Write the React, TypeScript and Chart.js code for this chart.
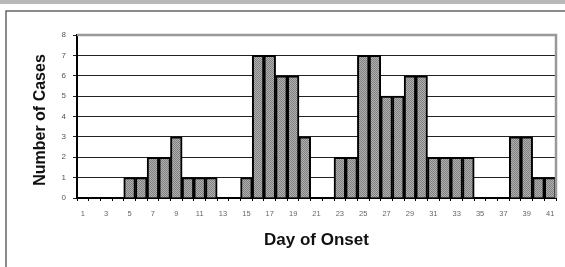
import React, { useEffect, useRef } from "react";
import { Chart, registerables } from "chart.js";

Chart.register(...registerables);

const days: string[] = Array.from({ length: 41 }, (_, i) => String(i + 1));
const cases: number[] = [
  0, 0, 0, 0, 1, 1, 2, 2, 3, 1,
  1, 1, 0, 0, 1, 7, 7, 6, 6, 3,
  0, 0, 2, 2, 7, 7, 5, 5, 6, 6,
  2, 2, 2, 2, 0, 0, 0, 3, 3, 1,
  1,
];
const yTitle = "Number of Cases";
const xTitle = "Day of Onset";

function makePattern(): CanvasPattern | string {
  const c = document.createElement("canvas");
  c.width = 2;
  c.height = 2;
  const g = c.getContext("2d");
  if (!g) return "#999";
  g.fillStyle = "#b0b0b0";
  g.fillRect(0, 0, 2, 2);
  g.fillStyle = "#808080";
  g.fillRect(0, 0, 1, 1);
  g.fillRect(1, 1, 1, 1);
  const p = g.createPattern(c, "repeat");
  return p || "#999";
}

const framePlugin = {
  id: "frame",
  beforeDraw(chart: any) {
    const ctx = chart.ctx;
    const { width, height } = chart;
    ctx.save();
    ctx.fillStyle = "#ffffff";
    ctx.fillRect(0, 0, width, height);
    ctx.fillStyle = "#b8b8b8";
    ctx.fillRect(0, 0, width, 4);
    ctx.strokeStyle = "#666";
    ctx.lineWidth = 1.5;
    ctx.beginPath();
    ctx.moveTo(6, height);
    ctx.lineTo(6, 11);
    ctx.lineTo(width, 11);
    ctx.stroke();
    ctx.restore();
  },
  afterDatasetsDraw(chart: any) {
    const ctx = chart.ctx;
    const a = chart.chartArea;
    ctx.save();
    ctx.strokeStyle = "#999";
    ctx.lineWidth = 2.5;
    ctx.beginPath();
    ctx.moveTo(a.left, a.top);
    ctx.lineTo(a.right, a.top);
    ctx.lineTo(a.right, a.bottom);
    ctx.stroke();
    ctx.fillStyle = "#111";
    ctx.textAlign = "center";
    ctx.textBaseline = "middle";
    ctx.font = "bold 17px 'Liberation Sans', Arial, sans-serif";
    ctx.fillText(xTitle, (a.left + a.right) / 2, 240);
    ctx.translate(41, 120);
    ctx.rotate(-Math.PI / 2);
    ctx.font = "bold 16px 'Liberation Sans', Arial, sans-serif";
    ctx.fillText(yTitle, 0, 0);
    ctx.restore();
  },
};

export default function App() {
  const ref = useRef<HTMLCanvasElement | null>(null);
  useEffect(() => {
    document.body.style.margin = "0";
    if (!ref.current) return;
    const chart = new Chart(ref.current, {
      type: "bar",
      data: {
        labels: days,
        datasets: [
          {
            data: cases,
            backgroundColor: makePattern() as any,
            borderColor: "#000",
            borderWidth: 2,
            barPercentage: 1,
            categoryPercentage: 1,
          },
        ],
      },
      options: {
        responsive: false,
        animation: false,
        events: [],
        layout: { padding: { left: 0, top: 35, right: 9, bottom: 0 } },
        plugins: { legend: { display: false }, tooltip: { enabled: false } },
        scales: {
          x: {
            afterFit: (s: any) => {
              s.height = 69;
            },
            grid: {
              offset: true,
              drawOnChartArea: false,
              drawTicks: true,
              tickLength: 3,
              color: "#000",
            },
            border: { color: "#000", width: 2 },
            ticks: {
              autoSkip: false,
              maxRotation: 0,
              padding: 8,
              color: "#666",
              font: { family: "'Liberation Sans', Arial, sans-serif", size: 7.5 },
              callback: (_v: any, i: number) => (i % 2 === 0 ? days[i] : ""),
            },
          },
          y: {
            min: 0,
            max: 8,
            afterFit: (s: any) => {
              s.width = 77;
            },
            grid: {
              color: "#222",
              lineWidth: 1,
              drawTicks: true,
              tickLength: 4,
            },
            border: { color: "#000", width: 2 },
            ticks: {
              stepSize: 1,
              padding: 7,
              color: "#555",
              font: { family: "'Liberation Sans', Arial, sans-serif", size: 8 },
            },
          },
        },
      },
      plugins: [framePlugin],
    });
    return () => chart.destroy();
  }, []);
  return (
    <div style={{ position: "absolute", left: 0, top: 0, width: 565, height: 267 }}>
      <canvas ref={ref} width={565} height={267} style={{ display: "block" }} />
    </div>
  );
}
